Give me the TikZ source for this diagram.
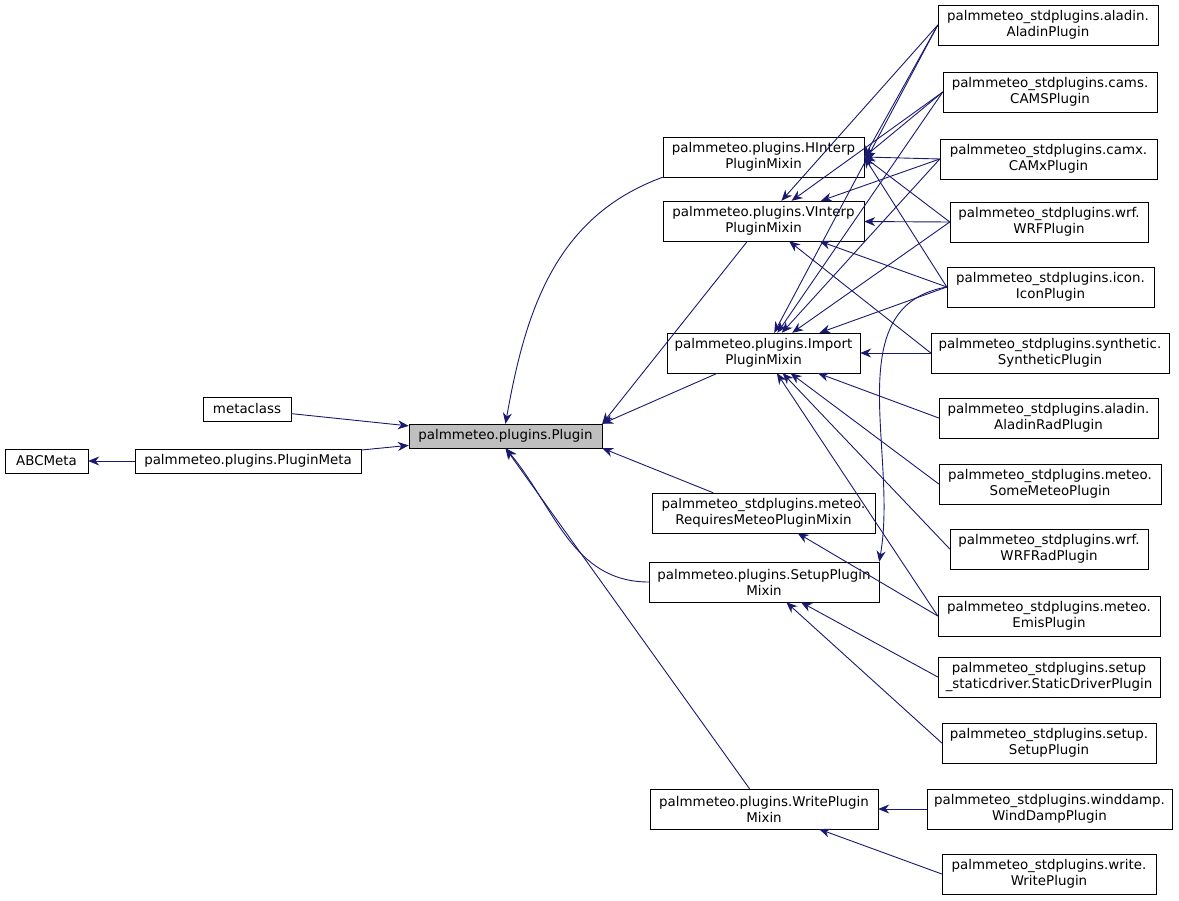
\documentclass[tikz,border=0pt]{standalone}
\usepackage{fontspec}
\setmainfont{DejaVu Sans}
\usetikzlibrary{arrows.meta,positioning}
\definecolor{edgeblue}{RGB}{25,25,112}
\definecolor{gray75}{RGB}{191,191,191}

\begin{document}
\begin{tikzpicture}
  [x=1pt,y=-1pt,
    every node/.style={rectangle,draw,font=\fontsize{13.4}{16}\selectfont,align=center,
      inner sep=2pt,minimum height=40pt},
    one/.style={minimum height=24pt},
    inh/.style={draw=edgeblue,line width=0.9pt,-{Stealth[length=11pt,width=9pt]}},
  ]
  \useasboundingbox (0,0) rectangle (1179,901);

  % bases
  \node[one,minimum width=83pt]  (abc)    at (46.5,461) {ABCMeta};
  \node[one,minimum width=226pt] (meta)   at (248,461)  {palmmeteo.plugins.PluginMeta};
  \node[one,minimum width=88pt]  (mcls)   at (247,409)  {metaclass};
  \node[one,minimum width=193pt,fill=gray75] (plugin) at (505.5,436) {palmmeteo.plugins.Plugin};

  % mixins
  \node[minimum width=201pt] (hint)  at (763.5,157) {palmmeteo.plugins.HInterp\\PluginMixin};
  \node[minimum width=201pt] (vint)  at (763.5,221) {palmmeteo.plugins.VInterp\\PluginMixin};
  \node[minimum width=193pt] (imp)   at (763.5,353) {palmmeteo.plugins.Import\\PluginMixin};
  \node[minimum width=223pt] (req)   at (763.5,513) {palmmeteo\_stdplugins.meteo.\\RequiresMeteoPluginMixin};
  \node[minimum width=230pt] (setm)  at (764,582)   {palmmeteo.plugins.SetupPlugin\\Mixin};
  \node[minimum width=228pt] (wrm)   at (764,809)   {palmmeteo.plugins.WritePlugin\\Mixin};

  % plugins
  \node[minimum width=220pt] (aladin)  at (1048,25)    {palmmeteo\_stdplugins.aladin.\\AladinPlugin};
  \node[minimum width=214pt] (cams)    at (1050,92)    {palmmeteo\_stdplugins.cams.\\CAMSPlugin};
  \node[minimum width=217pt] (camx)    at (1048.5,159) {palmmeteo\_stdplugins.camx.\\CAMxPlugin};
  \node[minimum width=198pt] (wrf)     at (1049,222)   {palmmeteo\_stdplugins.wrf.\\WRFPlugin};
  \node[minimum width=207pt] (icon)    at (1050.5,287) {palmmeteo\_stdplugins.icon.\\IconPlugin};
  \node[minimum width=238pt] (synth)   at (1050,353)   {palmmeteo\_stdplugins.synthetic.\\SyntheticPlugin};
  \node[minimum width=219pt] (alrad)   at (1048.5,418) {palmmeteo\_stdplugins.aladin.\\AladinRadPlugin};
  \node[minimum width=222pt] (some)    at (1050,484)   {palmmeteo\_stdplugins.meteo.\\SomeMeteoPlugin};
  \node[minimum width=198pt] (wrfrad)  at (1049,549)   {palmmeteo\_stdplugins.wrf.\\WRFRadPlugin};
  \node[minimum width=222pt] (emis)    at (1049,616)   {palmmeteo\_stdplugins.meteo.\\EmisPlugin};
  \node[minimum width=222pt] (static)  at (1049,677)   {palmmeteo\_stdplugins.setup\\\_staticdriver.StaticDriverPlugin};
  \node[minimum width=214pt] (setup)   at (1049,743)   {palmmeteo\_stdplugins.setup.\\SetupPlugin};
  \node[minimum width=245pt] (wdamp)   at (1049.5,809) {palmmeteo\_stdplugins.winddamp.\\WindDampPlugin};
  \node[minimum width=214pt] (write)   at (1049,874)   {palmmeteo\_stdplugins.write.\\WritePlugin};

  % inheritance
  \draw[inh] (meta) -- (abc);
  \draw[inh] (mcls) -- (plugin);
  \draw[inh] (meta) -- (plugin);
  \draw[inh] (hint.south west) to[out=200,in=80] (plugin.north);
  \draw[inh] (vint) -- (plugin.north east);
  \draw[inh] (imp) -- (plugin.north east);
  \draw[inh] (req) -- (plugin.south east);
  \draw[inh] (setm) to[out=180,in=-50] (plugin.south);
  \draw[inh] (wrm) -- (plugin.south);

  \foreach \c in {aladin,cams,camx,wrf,icon}
    \draw[inh] (\c.west) -- (hint.east);
  \foreach \c in {aladin,cams,camx,wrf,icon,synth}
    \draw[inh] (\c.west) -- (vint);
  \foreach \c in {aladin,cams,camx,wrf,icon,synth,alrad,some,wrfrad,emis}
    \draw[inh] (\c.west) -- (imp);
  \draw[inh] (emis.west) -- (req);
  \draw[inh] (icon.west) to[out=190,in=80] (setm.north east);
  \draw[inh] (static.west) -- (setm);
  \draw[inh] (setup.west) -- (setm);
  \draw[inh] (wdamp) -- (wrm);
  \draw[inh] (write.west) -- (wrm);
\end{tikzpicture}
\end{document}
